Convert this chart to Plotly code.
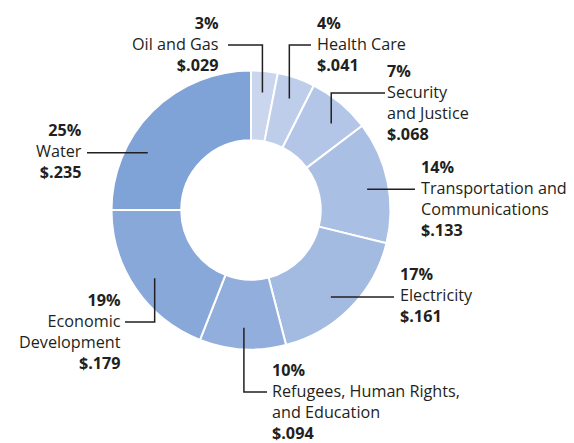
import math
import plotly.graph_objects as go

# ---- data ----
categories = ["Oil and Gas", "Health Care", "Security and Justice",
              "Transportation and Communications", "Electricity",
              "Refugees, Human Rights, and Education", "Economic Development", "Water"]
values = [0.029, 0.041, 0.068, 0.133, 0.161, 0.094, 0.179, 0.235]
percents = [3, 4, 7, 14, 17, 10, 19, 25]
label_lines = [["Oil and Gas"], ["Health Care"], ["Security", "and Justice"],
               ["Transportation and", "Communications"], ["Electricity"],
               ["Refugees, Human Rights,", "and Education"],
               ["Economic", "Development"], ["Water"]]
colors = ["#c9d6ee", "#bdcdea", "#b3c6e7", "#aabfe4", "#a3bae1",
          "#91aedd", "#89a8da", "#80a3d7"]

# ---- layout constants ----
W, H = 574, 443
CX, CY, R = 251, 210, 139.5
HOLE = 0.5
DOT_R = 118
FONT = "Open Sans"
FSIZE = 16.2
LINE_H = 1.3 * FSIZE
TXT = "#231f20"

# label placement: anchor side, text x, leader end x, name-line y (None => use dot y), angle offset (deg)
label_layout = [
    dict(side="right", tx=219, ex=228, ly=45, off=0),
    dict(side="left", tx=317, ex=311, ly=45, off=0),
    dict(side="left", tx=387, ex=385, ly=93, off=3),
    dict(side="left", tx=421, ex=415, ly=None, off=1.5),
    dict(side="left", tx=400, ex=394, ly=None, off=2.8),
    dict(side="left", tx=272, ex=267, ly=392, off=0),
    dict(side="right", tx=121, ex=125, ly=322, off=-1),
    dict(side="right", tx=82, ex=87, ly=None, off=-16),
]

fig = go.Figure()

fig.add_trace(go.Pie(
    labels=categories, values=values, sort=False, direction="clockwise",
    rotation=0, hole=HOLE, textinfo="none", hoverinfo="skip",
    marker=dict(colors=colors, line=dict(color="white", width=2)),
    domain=dict(x=[(CX - R) / W, (CX + R) / W],
                y=[(H - CY - R) / H, (H - CY + R) / H]),
    showlegend=False,
))

total = sum(values)
cum = 0.0
dot_x, dot_y = [], []
shapes, annotations = [], []
for i, v in enumerate(values):
    mid = (cum + v / 2) / total * 360.0
    cum += v
    L = label_layout[i]
    ang = math.radians(mid + L["off"])
    dx = CX + DOT_R * math.sin(ang)
    dy = CY - DOT_R * math.cos(ang)
    dot_x.append(dx)
    dot_y.append(dy)
    ly = L["ly"] if L["ly"] is not None else dy
    if L["ly"] is None:
        path = f"M {dx},{dy} H {L['ex']}"
    else:
        path = f"M {dx},{dy} V {ly} H {L['ex']}"
    shapes.append(dict(type="path", path=path, xref="x", yref="y",
                       line=dict(color=TXT, width=1.5)))
    lines = [f"<b>{percents[i]}%</b>"] + label_lines[i] + \
            ["<b>$" + f"{values[i]:.3f}".lstrip("0") + "</b>"]
    n = len(lines)
    yc = ly - 1.5 + (n / 2 - 1.5) * LINE_H
    annotations.append(dict(
        x=L["tx"], y=yc, xref="x", yref="y", text="<br>".join(lines),
        showarrow=False, xanchor=L["side"], yanchor="middle", align=L["side"],
        borderpad=0, borderwidth=0,
        font=dict(family=FONT, size=FSIZE, color=TXT)))

fig.add_trace(go.Scatter(x=dot_x, y=dot_y, mode="markers", hoverinfo="skip",
                         marker=dict(size=8, color=TXT), showlegend=False))

fig.update_layout(
    width=W, height=H, margin=dict(l=0, r=0, t=0, b=0),
    paper_bgcolor="white", plot_bgcolor="rgba(0,0,0,0)",
    xaxis=dict(range=[0, W], visible=False, fixedrange=True),
    yaxis=dict(range=[H, 0], visible=False, fixedrange=True),
    shapes=shapes, annotations=annotations,
)

fig.write_html("out.html", config={"displayModeBar": False},
               post_script="document.body.style.margin='0';")
